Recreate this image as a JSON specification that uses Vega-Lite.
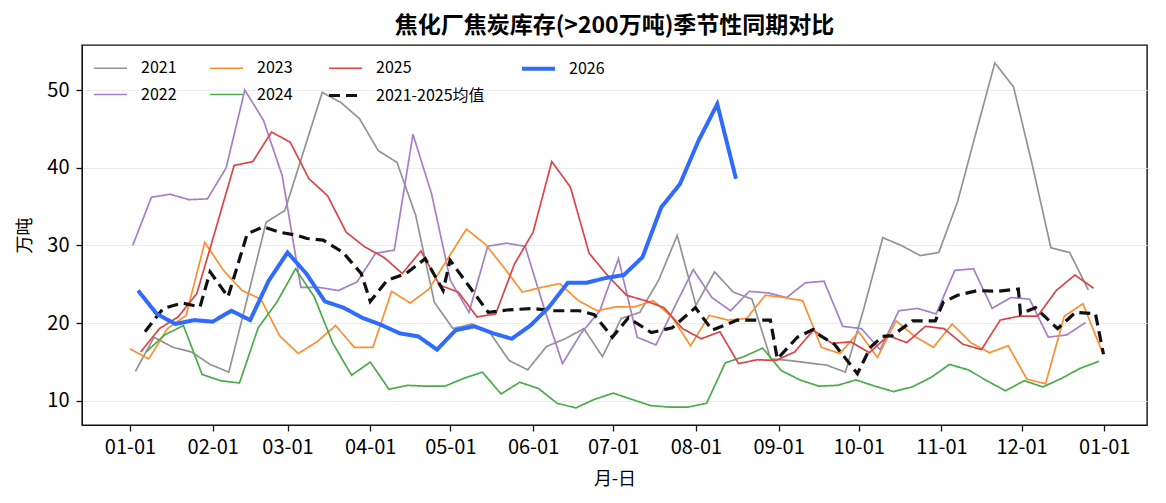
{
  "$schema": "https://vega.github.io/schema/vega-lite/v6.json",
  "autosize": "none",
  "width": 1065,
  "height": 380,
  "padding": {"left": 82, "top": 45, "right": 19, "bottom": 78},
  "background": "white",
  "title": {"text": "焦化厂焦炭库存(>200万吨)季节性同期对比", "fontSize": 23, "fontWeight": "bold", "color": "#000", "anchor": "middle", "offset": 7},
  "config": {
    "font": "Noto Sans CJK SC",
    "view": {"stroke": "#111", "strokeWidth": 1.4},
    "axis": {
      "labelFontSize": 20,
      "titleFontSize": 18,
      "titleFontWeight": "normal",
      "labelColor": "#000",
      "titleColor": "#000",
      "domainColor": "#111",
      "tickColor": "#111",
      "tickSize": 6,
      "tickWidth": 1.3
    },
    "legend": {
      "orient": "none",
      "legendX": 10,
      "legendY": 5,
      "columns": 4,
      "symbolType": "stroke",
      "symbolSize": 1089,
      "labelFontSize": 16,
      "labelColor": "#000",
      "labelOffset": 12,
      "columnPadding": 29,
      "rowPadding": -3
    }
  },
  "data": {
    "values": [
      {"s":"2021","d":2,"v":13.8},{"s":"2021","d":9,"v":18.2},{"s":"2021","d":16,"v":16.9},{"s":"2021","d":23,"v":16.3},{"s":"2021","d":30,"v":14.7},{"s":"2021","d":37,"v":13.7},{"s":"2021","d":44,"v":23.3},{"s":"2021","d":51,"v":33.0},{"s":"2021","d":58,"v":34.5},{"s":"2021","d":65,"v":42.1},
      {"s":"2021","d":72,"v":49.7},{"s":"2021","d":79,"v":48.4},{"s":"2021","d":86,"v":46.3},{"s":"2021","d":93,"v":42.2},{"s":"2021","d":100,"v":40.7},{"s":"2021","d":107,"v":33.9},{"s":"2021","d":114,"v":22.7},{"s":"2021","d":121,"v":19.3},{"s":"2021","d":128,"v":19.9},{"s":"2021","d":135,"v":18.7},
      {"s":"2021","d":142,"v":15.2},{"s":"2021","d":149,"v":14.0},{"s":"2021","d":156,"v":17.0},{"s":"2021","d":163,"v":18.0},{"s":"2021","d":170,"v":19.3},{"s":"2021","d":177,"v":15.7},{"s":"2021","d":184,"v":20.6},{"s":"2021","d":191,"v":21.4},{"s":"2021","d":198,"v":25.5},{"s":"2021","d":205,"v":31.3},
      {"s":"2021","d":212,"v":22.3},{"s":"2021","d":219,"v":26.6},{"s":"2021","d":226,"v":24.0},{"s":"2021","d":233,"v":23.1},{"s":"2021","d":240,"v":15.4},{"s":"2021","d":247,"v":15.2},{"s":"2021","d":254,"v":14.9},{"s":"2021","d":261,"v":14.6},{"s":"2021","d":268,"v":13.7},{"s":"2021","d":275,"v":22.0},
      {"s":"2021","d":282,"v":31.0},{"s":"2021","d":289,"v":30.0},{"s":"2021","d":296,"v":28.7},{"s":"2021","d":303,"v":29.1},{"s":"2021","d":310,"v":35.6},{"s":"2021","d":317,"v":44.6},{"s":"2021","d":324,"v":53.5},{"s":"2021","d":331,"v":50.4},{"s":"2021","d":338,"v":40.4},{"s":"2021","d":345,"v":29.7},
      {"s":"2021","d":352,"v":29.1},{"s":"2021","d":359,"v":24.3},

      {"s":"2022","d":1,"v":30.0},{"s":"2022","d":8,"v":36.2},{"s":"2022","d":15,"v":36.6},{"s":"2022","d":22,"v":35.9},{"s":"2022","d":29,"v":36.0},{"s":"2022","d":36,"v":40.0},{"s":"2022","d":43,"v":50.0},{"s":"2022","d":50,"v":46.1},{"s":"2022","d":57,"v":39.0},{"s":"2022","d":64,"v":24.6},
      {"s":"2022","d":71,"v":24.6},{"s":"2022","d":78,"v":24.2},{"s":"2022","d":85,"v":25.3},{"s":"2022","d":92,"v":29.0},{"s":"2022","d":99,"v":29.4},{"s":"2022","d":106,"v":44.3},{"s":"2022","d":113,"v":36.6},{"s":"2022","d":120,"v":25.5},{"s":"2022","d":127,"v":21.4},{"s":"2022","d":134,"v":29.9},
      {"s":"2022","d":141,"v":30.3},{"s":"2022","d":148,"v":29.9},{"s":"2022","d":155,"v":22.1},{"s":"2022","d":162,"v":14.8},{"s":"2022","d":169,"v":18.7},{"s":"2022","d":176,"v":21.6},{"s":"2022","d":183,"v":28.3},{"s":"2022","d":190,"v":18.2},{"s":"2022","d":197,"v":17.2},{"s":"2022","d":204,"v":22.1},
      {"s":"2022","d":211,"v":26.9},{"s":"2022","d":218,"v":23.3},{"s":"2022","d":225,"v":21.6},{"s":"2022","d":232,"v":24.1},{"s":"2022","d":239,"v":23.9},{"s":"2022","d":246,"v":23.3},{"s":"2022","d":253,"v":25.2},{"s":"2022","d":260,"v":25.4},{"s":"2022","d":267,"v":19.6},{"s":"2022","d":274,"v":19.3},
      {"s":"2022","d":281,"v":16.6},{"s":"2022","d":288,"v":21.6},{"s":"2022","d":295,"v":21.9},{"s":"2022","d":302,"v":21.2},{"s":"2022","d":309,"v":26.8},{"s":"2022","d":316,"v":27.0},{"s":"2022","d":323,"v":21.9},{"s":"2022","d":330,"v":23.3},{"s":"2022","d":337,"v":23.1},{"s":"2022","d":344,"v":18.2},
      {"s":"2022","d":351,"v":18.5},{"s":"2022","d":358,"v":20.1},

      {"s":"2023","d":0,"v":16.7},{"s":"2023","d":7,"v":15.4},{"s":"2023","d":14,"v":19.3},{"s":"2023","d":21,"v":21.0},{"s":"2023","d":28,"v":30.4},{"s":"2023","d":35,"v":26.8},{"s":"2023","d":42,"v":24.2},{"s":"2023","d":49,"v":23.1},{"s":"2023","d":56,"v":18.4},{"s":"2023","d":63,"v":16.1},
      {"s":"2023","d":70,"v":17.6},{"s":"2023","d":77,"v":19.7},{"s":"2023","d":84,"v":16.9},{"s":"2023","d":91,"v":16.9},{"s":"2023","d":98,"v":24.1},{"s":"2023","d":105,"v":22.6},{"s":"2023","d":112,"v":24.4},{"s":"2023","d":119,"v":28.3},{"s":"2023","d":126,"v":32.1},{"s":"2023","d":133,"v":30.2},
      {"s":"2023","d":140,"v":27.2},{"s":"2023","d":147,"v":24.0},{"s":"2023","d":154,"v":24.6},{"s":"2023","d":161,"v":25.1},{"s":"2023","d":168,"v":22.9},{"s":"2023","d":175,"v":21.6},{"s":"2023","d":182,"v":22.1},{"s":"2023","d":189,"v":22.1},{"s":"2023","d":196,"v":22.9},{"s":"2023","d":203,"v":20.8},
      {"s":"2023","d":210,"v":17.1},{"s":"2023","d":217,"v":21.0},{"s":"2023","d":224,"v":20.4},{"s":"2023","d":231,"v":20.6},{"s":"2023","d":238,"v":23.6},{"s":"2023","d":245,"v":23.3},{"s":"2023","d":252,"v":22.9},{"s":"2023","d":259,"v":16.9},{"s":"2023","d":266,"v":16.1},{"s":"2023","d":273,"v":18.9},
      {"s":"2023","d":280,"v":15.6},{"s":"2023","d":287,"v":20.3},{"s":"2023","d":294,"v":18.3},{"s":"2023","d":301,"v":16.9},{"s":"2023","d":308,"v":19.9},{"s":"2023","d":315,"v":17.5},{"s":"2023","d":322,"v":16.2},{"s":"2023","d":329,"v":17.1},{"s":"2023","d":336,"v":12.8},{"s":"2023","d":343,"v":12.2},
      {"s":"2023","d":350,"v":20.9},{"s":"2023","d":357,"v":22.5},{"s":"2023","d":364,"v":16.5},

      {"s":"2024","d":6,"v":16.3},{"s":"2024","d":13,"v":18.5},{"s":"2024","d":20,"v":19.7},{"s":"2024","d":27,"v":13.4},{"s":"2024","d":34,"v":12.6},{"s":"2024","d":41,"v":12.3},{"s":"2024","d":48,"v":19.4},{"s":"2024","d":55,"v":22.7},{"s":"2024","d":62,"v":27.0},{"s":"2024","d":69,"v":23.4},
      {"s":"2024","d":76,"v":17.4},{"s":"2024","d":83,"v":13.3},{"s":"2024","d":90,"v":15.0},{"s":"2024","d":97,"v":11.5},{"s":"2024","d":104,"v":12.0},{"s":"2024","d":111,"v":11.9},{"s":"2024","d":118,"v":11.9},{"s":"2024","d":125,"v":12.9},{"s":"2024","d":132,"v":13.7},{"s":"2024","d":139,"v":10.9},
      {"s":"2024","d":146,"v":12.4},{"s":"2024","d":153,"v":11.6},{"s":"2024","d":160,"v":9.7},{"s":"2024","d":167,"v":9.1},{"s":"2024","d":174,"v":10.2},{"s":"2024","d":181,"v":11.0},{"s":"2024","d":188,"v":10.2},{"s":"2024","d":195,"v":9.4},{"s":"2024","d":202,"v":9.2},{"s":"2024","d":209,"v":9.2},
      {"s":"2024","d":216,"v":9.7},{"s":"2024","d":223,"v":14.9},{"s":"2024","d":230,"v":15.7},{"s":"2024","d":237,"v":16.8},{"s":"2024","d":244,"v":13.9},{"s":"2024","d":251,"v":12.7},{"s":"2024","d":258,"v":11.9},{"s":"2024","d":265,"v":12.0},{"s":"2024","d":272,"v":12.7},{"s":"2024","d":279,"v":11.9},
      {"s":"2024","d":286,"v":11.2},{"s":"2024","d":293,"v":11.8},{"s":"2024","d":300,"v":13.0},{"s":"2024","d":307,"v":14.7},{"s":"2024","d":314,"v":14.0},{"s":"2024","d":321,"v":12.6},{"s":"2024","d":328,"v":11.3},{"s":"2024","d":335,"v":12.6},{"s":"2024","d":342,"v":11.8},{"s":"2024","d":349,"v":12.9},
      {"s":"2024","d":356,"v":14.2},{"s":"2024","d":363,"v":15.1},

      {"s":"2025","d":4,"v":16.3},{"s":"2025","d":11,"v":19.3},{"s":"2025","d":18,"v":20.8},{"s":"2025","d":25,"v":23.8},{"s":"2025","d":32,"v":32.0},{"s":"2025","d":39,"v":40.3},{"s":"2025","d":46,"v":40.8},{"s":"2025","d":53,"v":44.6},{"s":"2025","d":60,"v":43.3},{"s":"2025","d":67,"v":38.6},
      {"s":"2025","d":74,"v":36.4},{"s":"2025","d":81,"v":31.7},{"s":"2025","d":88,"v":29.8},{"s":"2025","d":95,"v":28.5},{"s":"2025","d":102,"v":26.4},{"s":"2025","d":109,"v":29.3},{"s":"2025","d":116,"v":24.9},{"s":"2025","d":123,"v":24.0},{"s":"2025","d":130,"v":20.8},{"s":"2025","d":137,"v":21.2},
      {"s":"2025","d":144,"v":27.6},{"s":"2025","d":151,"v":31.7},{"s":"2025","d":158,"v":40.8},{"s":"2025","d":165,"v":37.5},{"s":"2025","d":172,"v":29.0},{"s":"2025","d":179,"v":26.1},{"s":"2025","d":186,"v":23.6},{"s":"2025","d":193,"v":22.9},{"s":"2025","d":200,"v":22.0},{"s":"2025","d":207,"v":19.3},
      {"s":"2025","d":214,"v":18.0},{"s":"2025","d":221,"v":18.9},{"s":"2025","d":228,"v":14.8},{"s":"2025","d":235,"v":15.3},{"s":"2025","d":242,"v":15.2},{"s":"2025","d":249,"v":16.3},{"s":"2025","d":256,"v":19.1},{"s":"2025","d":263,"v":17.4},{"s":"2025","d":270,"v":17.6},{"s":"2025","d":277,"v":16.2},
      {"s":"2025","d":284,"v":18.4},{"s":"2025","d":291,"v":17.5},{"s":"2025","d":298,"v":19.6},{"s":"2025","d":305,"v":19.3},{"s":"2025","d":312,"v":17.3},{"s":"2025","d":319,"v":16.6},{"s":"2025","d":326,"v":20.4},{"s":"2025","d":333,"v":20.9},{"s":"2025","d":340,"v":20.9},{"s":"2025","d":347,"v":24.2},
      {"s":"2025","d":354,"v":26.2},{"s":"2025","d":361,"v":24.5},

      {"s":"2021-2025均值","d":5.6,"v":18.9},{"s":"2021-2025均值","d":12.4,"v":21.9},{"s":"2021-2025均值","d":19.5,"v":22.6},{"s":"2021-2025均值","d":26.2,"v":22.1},{"s":"2021-2025均值","d":30.0,"v":26.6},{"s":"2021-2025均值","d":36.7,"v":23.4},{"s":"2021-2025均值","d":43.9,"v":31.5},{"s":"2021-2025均值","d":49.9,"v":32.4},{"s":"2021-2025均值","d":56.2,"v":31.7},{"s":"2021-2025均值","d":62.6,"v":31.3},
      {"s":"2021-2025均值","d":66.3,"v":30.9},{"s":"2021-2025均值","d":72.3,"v":30.7},{"s":"2021-2025均值","d":79.8,"v":29.1},{"s":"2021-2025均值","d":86.6,"v":26.4},{"s":"2021-2025均值","d":90.0,"v":22.8},{"s":"2021-2025均值","d":96.3,"v":25.5},{"s":"2021-2025均值","d":103.4,"v":26.4},{"s":"2021-2025均值","d":110.6,"v":28.3},{"s":"2021-2025均值","d":117.3,"v":24.2},{"s":"2021-2025均值","d":119.9,"v":28.1},
      {"s":"2021-2025均值","d":128.2,"v":24.2},{"s":"2021-2025均值","d":134.2,"v":21.4},{"s":"2021-2025均值","d":141.3,"v":21.7},{"s":"2021-2025均值","d":150.7,"v":21.9},{"s":"2021-2025均值","d":158.6,"v":21.6},{"s":"2021-2025均值","d":168.3,"v":21.6},{"s":"2021-2025均值","d":173.9,"v":21.1},{"s":"2021-2025均值","d":180.7,"v":18.2},{"s":"2021-2025均值","d":186.7,"v":20.7},{"s":"2021-2025均值","d":195.3,"v":18.8},
      {"s":"2021-2025均值","d":203.1,"v":19.4},{"s":"2021-2025均值","d":211.8,"v":22.0},{"s":"2021-2025均值","d":218.1,"v":19.1},{"s":"2021-2025均值","d":227.5,"v":20.4},{"s":"2021-2025均值","d":239.9,"v":20.4},{"s":"2021-2025均值","d":242.5,"v":15.4},{"s":"2021-2025均值","d":250.0,"v":18.2},{"s":"2021-2025均值","d":256.0,"v":19.2},{"s":"2021-2025均值","d":258.6,"v":18.4},{"s":"2021-2025均值","d":263.9,"v":17.3},
      {"s":"2021-2025均值","d":272.5,"v":13.5},{"s":"2021-2025均值","d":277.4,"v":16.9},{"s":"2021-2025均值","d":281.9,"v":18.3},{"s":"2021-2025均值","d":285.6,"v":18.4},{"s":"2021-2025均值","d":293.1,"v":20.3},{"s":"2021-2025均值","d":301.7,"v":20.3},{"s":"2021-2025均值","d":304.7,"v":22.7},{"s":"2021-2025均值","d":310.0,"v":23.6},{"s":"2021-2025均值","d":317.5,"v":24.2},{"s":"2021-2025均值","d":325.0,"v":24.1},
      {"s":"2021-2025均值","d":332.8,"v":24.4},{"s":"2021-2025均值","d":333.6,"v":21.2},{"s":"2021-2025均值","d":339.2,"v":22.0},{"s":"2021-2025均值","d":347.5,"v":19.3},{"s":"2021-2025均值","d":354.2,"v":21.4},{"s":"2021-2025均值","d":361.7,"v":21.2},{"s":"2021-2025均值","d":364.7,"v":16.0},

      {"s":"2026","d":3,"v":24.2},{"s":"2026","d":10,"v":21.2},{"s":"2026","d":17,"v":19.9},{"s":"2026","d":24,"v":20.4},{"s":"2026","d":31,"v":20.2},{"s":"2026","d":38,"v":21.6},{"s":"2026","d":45,"v":20.4},{"s":"2026","d":52,"v":25.5},{"s":"2026","d":59,"v":29.1},{"s":"2026","d":66,"v":26.4},
      {"s":"2026","d":73,"v":22.8},{"s":"2026","d":80,"v":22.0},{"s":"2026","d":87,"v":20.7},{"s":"2026","d":94,"v":19.8},{"s":"2026","d":101,"v":18.7},{"s":"2026","d":108,"v":18.3},{"s":"2026","d":115,"v":16.6},{"s":"2026","d":122,"v":19.1},{"s":"2026","d":129,"v":19.6},{"s":"2026","d":136,"v":18.7},
      {"s":"2026","d":143,"v":18.0},{"s":"2026","d":150,"v":19.7},{"s":"2026","d":157,"v":22.1},{"s":"2026","d":164,"v":25.2},{"s":"2026","d":171,"v":25.2},{"s":"2026","d":178,"v":25.8},{"s":"2026","d":185,"v":26.2},{"s":"2026","d":192,"v":28.5},{"s":"2026","d":199,"v":34.9},{"s":"2026","d":206,"v":37.9},
      {"s":"2026","d":213,"v":43.5},{"s":"2026","d":220,"v":48.2},{"s":"2026","d":227,"v":38.6}
    ]
  },
  "encoding": {
    "x": {
      "field": "d",
      "type": "quantitative",
      "title": "月-日",
      "scale": {"domain": [-18, 381], "nice": false, "zero": false},
      "axis": {
        "values": [0, 31, 59, 90, 120, 151, 181, 212, 243, 273, 304, 334, 365],
        "labelExpr": "['01-01','02-01','03-01','04-01','05-01','06-01','07-01','08-01','09-01','10-01','11-01','12-01','01-01'][indexof([0,31,59,90,120,151,181,212,243,273,304,334,365], datum.value)]",
        "grid": false,
        "labelPadding": 6,
        "titlePadding": 13
      }
    },
    "y": {
      "field": "v",
      "type": "quantitative",
      "title": "万吨",
      "scale": {"domain": [6.9, 55.8], "nice": false, "zero": false},
      "axis": {
        "values": [10, 20, 30, 40, 50],
        "grid": true,
        "gridColor": "#ebebeb",
        "gridWidth": 1,
        "labelPadding": 7,
        "titlePadding": 12
      }
    },
    "color": {
      "field": "s",
      "type": "nominal",
      "title": null,
      "scale": {
        "domain": ["2021", "2022", "2023", "2024", "2025", "2021-2025均值", "2026"],
        "range": ["#939393", "#a47fca", "#ff8f2e", "#4aac4a", "#dc4446", "#111111", "#2f6bff"]
      }
    },
    "strokeDash": {
      "field": "s",
      "type": "nominal",
      "title": null,
      "scale": {
        "domain": ["2021", "2022", "2023", "2024", "2025", "2021-2025均值", "2026"],
        "range": [[1, 0], [1, 0], [1, 0], [1, 0], [1, 0], [11, 6], [1, 0]]
      }
    },
    "strokeWidth": {
      "field": "s",
      "type": "nominal",
      "title": null,
      "scale": {
        "type": "ordinal",
        "domain": ["2021", "2022", "2023", "2024", "2025", "2021-2025均值", "2026"],
        "range": [1.7, 1.7, 1.7, 1.7, 1.7, 3.2, 4]
      }
    }
  },
  "layer": [
    {
      "transform": [{"filter": {"field": "s", "oneOf": ["2021", "2022", "2023", "2024", "2025"]}}],
      "mark": {"type": "line"}
    },
    {
      "transform": [{"filter": {"field": "s", "equal": "2021-2025均值"}}],
      "mark": {"type": "line"}
    },
    {
      "transform": [{"filter": {"field": "s", "equal": "2026"}}],
      "mark": {"type": "line"}
    }
  ]
}
